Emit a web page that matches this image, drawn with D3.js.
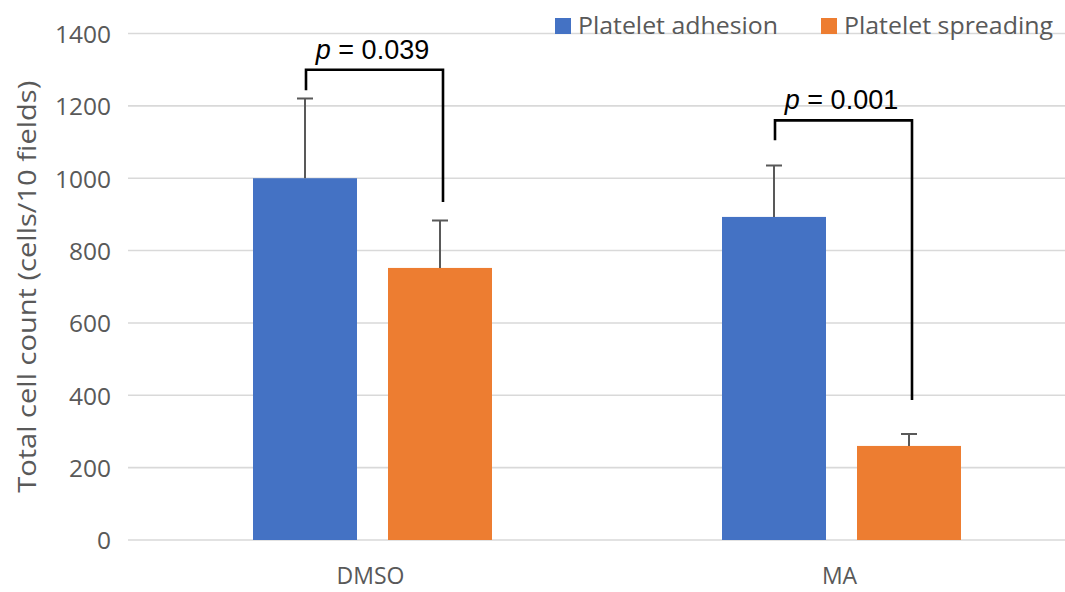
<!DOCTYPE html>
<html><head><meta charset="utf-8">
<script src="https://cdn.jsdelivr.net/npm/d3@7"></script>
<style>
html,body{margin:0;padding:0;background:#fff;}
svg{display:block;font-family:"Open Sans","Noto Sans",sans-serif;}
</style></head>
<body>
<svg id="chart" width="1065" height="592"></svg>
<script>
const categories = ["DMSO", "MA"];
const seriesNames = ["Platelet adhesion", "Platelet spreading"];
const adhesion = [1000, 893];
const spreading = [752, 260];
const adhesionErr = [220, 142];
const spreadingErr = [131, 33];
const yTicks = [0, 200, 400, 600, 800, 1000, 1200, 1400];
const pLabels = ["0.039", "0.001"];
const bracketTop = [1300, 1160];
const bracketLeftEnd = [1243, 1105];
const bracketRightEnd = [934, 387];

const colors = ["#4472C4", "#ED7D31"];
const svg = d3.select("#chart");

const y = d3.scaleLinear().domain([0, 1400]).range([540, 33.5]);
const x0 = d3.scaleBand().domain(categories).range([138, 1076]).padding(0);
const x1 = d3.scaleBand().domain(seriesNames).range([115, 354]).paddingInner(31/135).paddingOuter(0);

// gridlines
svg.append("g").selectAll("line").data(yTicks).join("line")
  .attr("x1", 128).attr("x2", 1065)
  .attr("y1", d => y(d)).attr("y2", d => y(d))
  .attr("stroke", "#d9d9d9").attr("stroke-width", 1.6);

// y axis labels
const yAxis = d3.axisLeft(y).tickValues(yTicks).tickSize(0).tickPadding(0).tickFormat(d3.format("d"));
const ya = svg.append("g").attr("transform", "translate(111,0)").call(yAxis);
ya.select(".domain").remove();
ya.selectAll("text").attr("font-size", 24.5).attr("fill", "#595959")
  .attr("font-family", "'Open Sans','Noto Sans',sans-serif").attr("dy", "0.36em");

// y title
svg.append("text")
  .attr("transform", `translate(36,${y(700)}) rotate(-90)`)
  .attr("text-anchor", "middle").attr("font-size", 26).attr("fill", "#595959")
  .attr("textLength", 412).attr("lengthAdjust", "spacingAndGlyphs")
  .text("Total cell count (cells/10 fields)");

// bars
const rows = categories.map((c, i) => ({
  cat: c,
  vals: [
    {s: seriesNames[0], v: adhesion[i], e: adhesionErr[i], col: colors[0]},
    {s: seriesNames[1], v: spreading[i], e: spreadingErr[i], col: colors[1]}
  ]
}));

const g = svg.append("g").selectAll("g").data(rows).join("g")
  .attr("transform", d => `translate(${x0(d.cat)},0)`);

g.selectAll("rect").data(d => d.vals).join("rect")
  .attr("x", d => x1(d.s)).attr("width", x1.bandwidth())
  .attr("y", d => y(d.v)).attr("height", d => y(0) - y(d.v))
  .attr("fill", d => d.col);

// error bars
g.selectAll("path.err").data(d => d.vals).join("path").attr("class", "err")
  .attr("d", d => {
    const cx = x1(d.s) + x1.bandwidth() / 2;
    return `M${cx},${y(d.v)}V${y(d.v + d.e)}M${cx - 8},${y(d.v + d.e)}H${cx + 8}`;
  })
  .attr("stroke", "#595959").attr("stroke-width", 2).attr("fill", "none");

// x category labels
svg.append("g").selectAll("text").data(categories).join("text")
  .attr("x", d => x0(d) + x0.bandwidth() / 2 - 2)
  .attr("y", 584)
  .attr("text-anchor", "middle").attr("font-size", 23).attr("fill", "#595959")
  .text(d => d);

// significance brackets
categories.forEach((c, i) => {
  const lx = x0(c) + x1(seriesNames[0]) + x1.bandwidth() / 2 + 1;
  const rx = x0(c) + x1(seriesNames[1]) + x1.bandwidth() / 2 + 3;
  svg.append("path")
    .attr("d", `M${lx},${y(bracketLeftEnd[i])}V${y(bracketTop[i])}H${rx}V${y(bracketRightEnd[i])}`)
    .attr("stroke", "#000").attr("stroke-width", 2.6).attr("fill", "none");
  const t = svg.append("text")
    .attr("x", (lx + rx) / 2 - 2).attr("y", y(bracketTop[i]) - 11)
    .attr("text-anchor", "middle").attr("font-size", 27).attr("fill", "#000")
    .attr("font-family", "'Liberation Sans',Arial,sans-serif");
  t.append("tspan").attr("font-style", "italic").text("p");
  t.append("tspan").text(" = " + pLabels[i]);
});

// legend
const legX = [555, 821];
const legW = [200, 209];
const leg = svg.append("g").selectAll("g").data(seriesNames).join("g")
  .attr("transform", (d, i) => `translate(${legX[i]},0)`);
leg.append("rect").attr("x", 0).attr("y", 18).attr("width", 16).attr("height", 16)
  .attr("fill", (d, i) => colors[i]);
leg.append("text").attr("x", 23).attr("y", 34)
  .attr("font-size", 24).attr("fill", "#595959")
  .attr("textLength", (d, i) => legW[i]).attr("lengthAdjust", "spacingAndGlyphs")
  .text(d => d);
</script>
</body></html>
